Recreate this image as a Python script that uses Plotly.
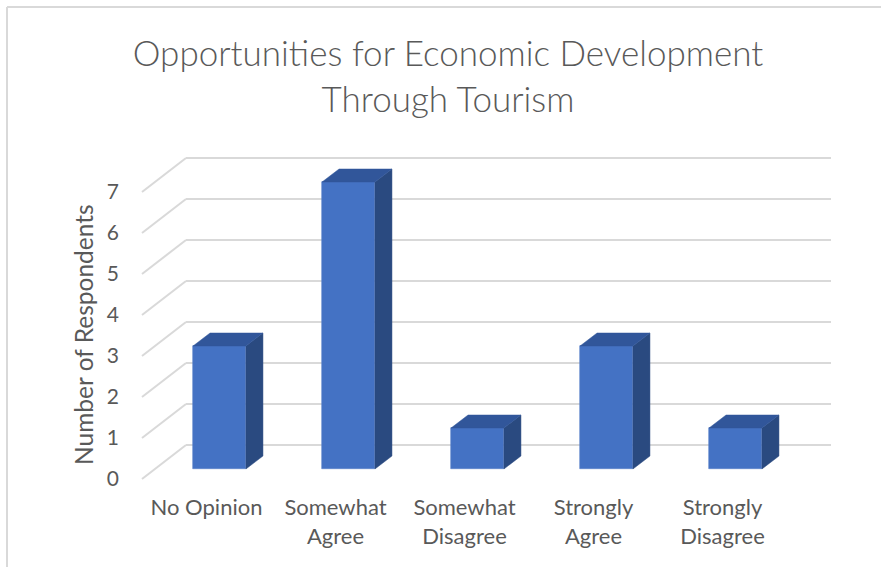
import plotly.graph_objects as go

# ---- data ----
categories = ["No Opinion", "Somewhat<br>Agree", "Somewhat<br>Disagree",
              "Strongly<br>Agree", "Strongly<br>Disagree"]
respondents = [3, 7, 1, 3, 1]
y_ticks = [0, 1, 2, 3, 4, 5, 6, 7]
chart_title = "Opportunities for Economic Development<br>Through Tourism"
y_title = "Number of Respondents"

# ---- layout geometry (pixels) ----
W, H = 881, 567
M_L, M_B = 120, 75
PX_PER_CAT = 129.0
PX_PER_UNIT = 41.0
X0_PX = 219.5   # centre of first bar's front face
Y0_PX = 469.0   # baseline of bar front faces

x_range = [(M_L - X0_PX) / PX_PER_CAT, (W - X0_PX) / PX_PER_CAT]
y_range = [(Y0_PX - (H - M_B)) / PX_PER_UNIT, Y0_PX / PX_PER_UNIT]

# oblique projection offsets (data units) for the pseudo-3D look
front_dx, front_dy = -13 / PX_PER_CAT, -10 / PX_PER_UNIT
back_dx, back_dy = 31 / PX_PER_CAT, 24 / PX_PER_UNIT
depth_dx, depth_dy = 17 / PX_PER_CAT, 13 / PX_PER_UNIT
bar_w = 0.41
wall_left, wall_right = -0.5, len(categories) - 0.5

FRONT = "#4472C4"
TOP = "#31569a"
SIDE = "#2a4a80"
GRID = "#d9d9d9"
TEXT = "#595959"
FONT = "Lato"

fig = go.Figure()

# gridlines: back wall + left side wall
shapes = []
for v in y_ticks:
    shapes.append(dict(type="line", xref="x", yref="y", layer="below",
                       x0=wall_left + back_dx, y0=v + back_dy,
                       x1=wall_right + back_dx, y1=v + back_dy,
                       line=dict(color=GRID, width=2)))
    shapes.append(dict(type="line", xref="x", yref="y", layer="below",
                       x0=wall_left + front_dx, y0=v + front_dy,
                       x1=wall_left + back_dx, y1=v + back_dy,
                       line=dict(color=GRID, width=2)))

# chart frame (top and left edges)
px2paper_x = lambda px: (px - M_L) / (W - M_L)
px2paper_y = lambda py: ((H - M_B) - py) / (H - M_B)
shapes.append(dict(type="line", xref="paper", yref="paper",
                   x0=px2paper_x(7), y0=px2paper_y(7), x1=px2paper_x(W + 5), y1=px2paper_y(7),
                   line=dict(color=GRID, width=2)))
shapes.append(dict(type="line", xref="paper", yref="paper",
                   x0=px2paper_x(7), y0=px2paper_y(7), x1=px2paper_x(7), y1=px2paper_y(H + 5),
                   line=dict(color=GRID, width=2)))

# front faces
xs = list(range(len(categories)))
fig.add_trace(go.Bar(x=xs, y=respondents, width=bar_w, marker_color=FRONT,
                     marker_line=dict(color="#5b82c9", width=0.6),
                     hoverinfo="skip", showlegend=False))

# side and top faces
side_x, side_y, top_x, top_y = [], [], [], []
for i, v in zip(xs, respondents):
    r = i + bar_w / 2
    l = i - bar_w / 2
    side_x += [r, r + depth_dx, r + depth_dx, r, r, None]
    side_y += [0, depth_dy, v + depth_dy, v, 0, None]
    top_x += [l, r, r + depth_dx, l + depth_dx, l, None]
    top_y += [v, v, v + depth_dy, v + depth_dy, v, None]
fig.add_trace(go.Scatter(x=side_x, y=side_y, fill="toself", fillcolor=SIDE,
                         mode="lines", line=dict(color=SIDE, width=0.5),
                         hoverinfo="skip", showlegend=False))
fig.add_trace(go.Scatter(x=top_x, y=top_y, fill="toself", fillcolor=TOP,
                         mode="lines", line=dict(color=TOP, width=0.5),
                         hoverinfo="skip", showlegend=False))

fig.update_layout(
    width=W, height=H,
    margin=dict(l=M_L, r=0, t=0, b=M_B),
    paper_bgcolor="white", plot_bgcolor="white",
    shapes=shapes,
    font=dict(family=FONT, color=TEXT),
    title=dict(text=chart_title, x=448 / W, xanchor="center",
               y=1 - 66 / H, yanchor="middle", xref="container", yref="container",
               font=dict(family=FONT, size=35, weight=300, color=TEXT)),
    xaxis=dict(range=x_range, showgrid=False, zeroline=False, showline=False,
               tickmode="array", tickvals=[i + front_dx for i in xs], ticktext=categories,
               tickfont=dict(size=22, color=TEXT), ticks=""),
    yaxis=dict(range=y_range, showgrid=False, zeroline=False, showline=False,
               tickmode="array", tickvals=[v + front_dy for v in y_ticks],
               ticktext=[str(v) for v in y_ticks],
               tickfont=dict(size=21, color=TEXT), ticks=""),
    annotations=[dict(text=y_title, textangle=-90, showarrow=False,
                      xref="paper", yref="paper",
                      x=px2paper_x(83), y=px2paper_y(335),
                      xanchor="center", yanchor="middle",
                      font=dict(family=FONT, size=24.5, color=TEXT))],
    bargap=0,
)

fig.write_html("out.html")
